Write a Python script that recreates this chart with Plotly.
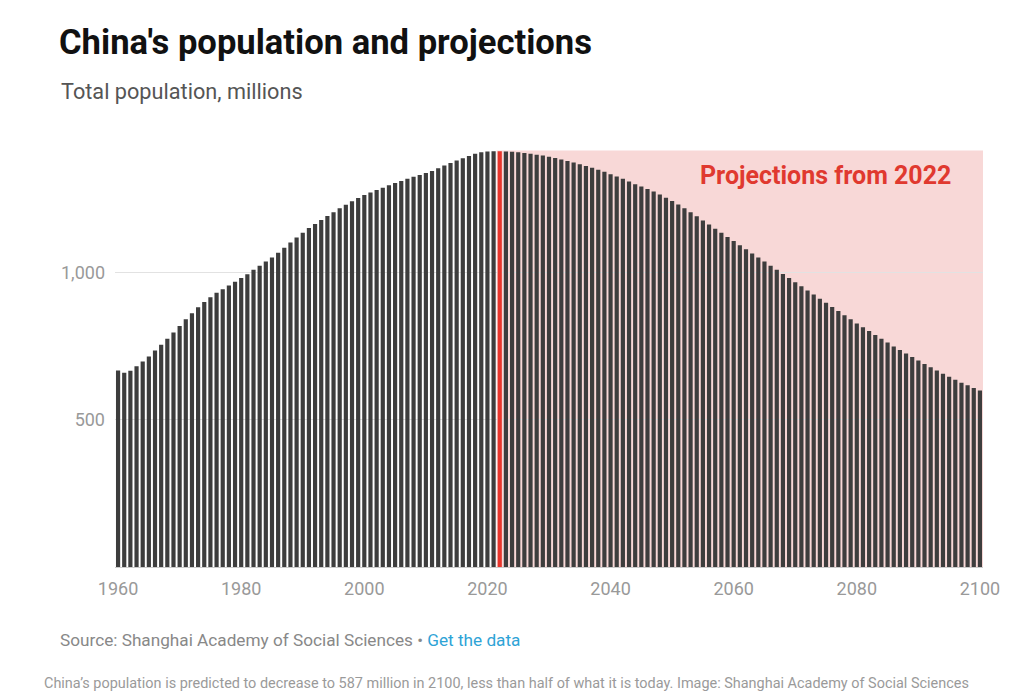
import plotly.graph_objects as go

years = list(range(1960, 2101))

historical = [
    667, 660, 666, 682, 698, 715, 735, 755, 775, 796,
    818, 841, 862, 882, 900, 916, 931, 943, 956, 969,
    981, 994, 1009, 1023, 1037, 1051, 1067, 1084, 1102, 1119,
    1135, 1151, 1165, 1178, 1192, 1205, 1218, 1230, 1242, 1253,
    1263, 1272, 1280, 1288, 1296, 1304, 1311, 1318, 1325, 1331,
    1338, 1345, 1354, 1363, 1372, 1380, 1388, 1396, 1403, 1408,
    1411, 1412,
]  # 1960-2021

projected = [
    1412, 1411, 1410, 1408, 1406, 1403, 1400, 1397, 1393, 1389,
    1384, 1379, 1374, 1368, 1362, 1356, 1349, 1342, 1334, 1326,
    1318, 1309, 1300, 1292, 1284, 1275, 1265, 1254, 1243, 1231,
    1218, 1205, 1191, 1177, 1163, 1149, 1135, 1121, 1107, 1093,
    1079, 1065, 1051, 1037, 1023, 1009, 995, 981, 967, 953,
    939, 925, 911, 897, 883, 869, 855, 841, 827, 814,
    801, 788, 775, 762, 749, 737, 725, 713, 701, 689,
    678, 667, 656, 646, 636, 626, 617, 608, 599, 593,
    587,
]  # 2022-2100

values = historical + projected
projection_start = 2022
y_ticks = [500, 1000]
y_tick_labels = ["500", "1,000"]
x_ticks = [1960, 1980, 2000, 2020, 2040, 2060, 2080, 2100]

bar_colors = ["#e8352b" if y == projection_start else "#3d3d3d" for y in years]

W, H = 999, 683
L, R, T, B = 107, 24, 132, 124
PW, PH = W - L - R, H - T - B


def px(x):
    # page x (8px body margin) -> paper x
    return (x - 8 - L) / PW


def py(y):
    return (H - B - (y - 8)) / PH


fig = go.Figure()
fig.add_trace(go.Bar(
    x=years, y=values, marker=dict(color=bar_colors, line=dict(width=0)),
    hovertemplate="%{x}: %{y}<extra></extra>",
))

fig.add_shape(type="rect", xref="x", yref="y",
              x0=projection_start - 0.5, x1=2100.5, y0=0, y1=1414,
              fillcolor="#f8d8d7", line=dict(width=0), layer="below")

fig.add_annotation(x=2095.6, y=1331, xref="x", yref="y", text="<b>Projections from 2022</b>",
                   showarrow=False, xanchor="right", yanchor="middle",
                   font=dict(family="Roboto", size=25, color="#e0392f"))

fig.update_layout(
    width=W, height=H,
    margin=dict(l=L, r=R, t=T, b=B),
    paper_bgcolor="white", plot_bgcolor="white",
    bargap=0.32, showlegend=False,
    font=dict(family="Roboto", color="#999999"),
    title=dict(
        text="<b>China's population and projections</b>",
        x=(59 - 8) / W, xanchor="left", y=1 - (42 - 8) / H, yanchor="middle",
        font=dict(family="Roboto", size=34.6, color="#111111"),
    ),
    xaxis=dict(range=[1959.5, 2100.5], tickvals=x_ticks, ticks="", showgrid=False,
               zeroline=False, showline=True, linecolor="#cccccc", linewidth=1,
               ticklabelstandoff=5, automargin=False,
               tickfont=dict(family="Roboto", size=18, color="#999999")),
    yaxis=dict(range=[0, 1450], tickvals=y_ticks, ticktext=y_tick_labels, ticks="",
               showgrid=True, gridcolor="#e2e2e2", gridwidth=1, zeroline=False,
               showline=False, ticklabelstandoff=9, automargin=False,
               tickfont=dict(family="Roboto", size=18, color="#999999")),
)

fig.add_annotation(x=px(59), y=py(91), xref="paper", yref="paper",
                   text="Total population, millions", showarrow=False,
                   xanchor="left", yanchor="middle",
                   font=dict(family="Roboto", size=21.7, color="#555555"))

fig.add_annotation(x=px(58), y=py(640), xref="paper", yref="paper",
                   text="Source: Shanghai Academy of Social Sciences \u2022 <span style='color:#2ea3d6'>Get the data</span>",
                   showarrow=False, xanchor="left", yanchor="middle",
                   font=dict(family="Roboto", size=17.2, color="#888888"))

fig.add_annotation(x=px(42), y=py(683), xref="paper", yref="paper",
                   text="China\u2019s population is predicted to decrease to 587 million in 2100, less than half of what it is today. Image: Shanghai Academy of Social Sciences",
                   showarrow=False, xanchor="left", yanchor="middle",
                   font=dict(family="Roboto", size=14.45, color="#9a9a9a"))

fig.write_html("out.html")
